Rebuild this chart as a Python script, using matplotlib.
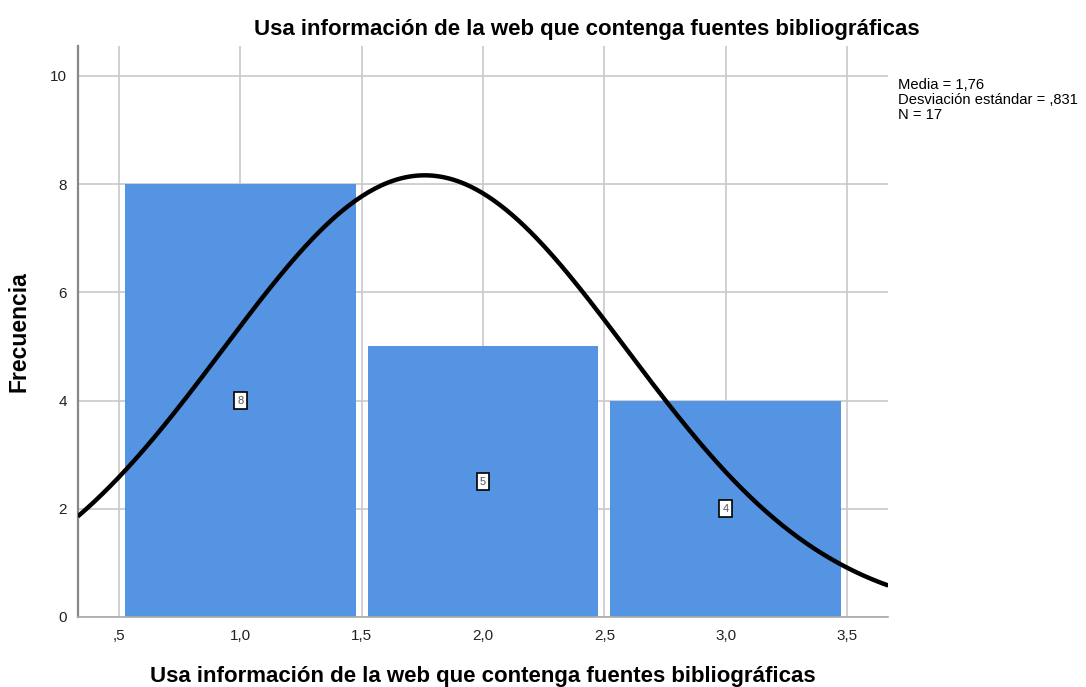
import numpy as np
import matplotlib
matplotlib.use("Agg")
import matplotlib.pyplot as plt

plt.rcParams['font.family'] = ['Liberation Sans', 'DejaVu Sans']

categories = [1, 2, 3]
frequencies = [8, 5, 4]
x_ticks = [0.5, 1.0, 1.5, 2.0, 2.5, 3.0, 3.5]
x_tick_labels = [",5", "1,0", "1,5", "2,0", "2,5", "3,0", "3,5"]
y_ticks = [0, 2, 4, 6, 8, 10]
mean, std_dev, n_obs = 1.76, 0.831, 17

title = "Usa información de la web que contenga fuentes bibliográficas"

fig = plt.figure(figsize=(10.86, 6.87), dpi=100)
ax = fig.add_axes([0.0718, 0.1019, 0.7459, 0.8311])

bar_color = "#5494e3"
ax.bar(categories, frequencies, width=0.95, color=bar_color,
       edgecolor="none", linewidth=0, zorder=2)

# Normal curve scaled to counts (bin width 1)
xs = np.linspace(0.33, 3.67, 400)
ys = n_obs * 1.0 / (std_dev * np.sqrt(2 * np.pi)) * np.exp(-0.5 * ((xs - mean) / std_dev) ** 2)
ax.plot(xs, ys, color="black", linewidth=3.2, zorder=4, solid_capstyle="butt")

# Count labels in the middle of each bar
for c, f in zip(categories, frequencies):
    ax.text(c, f / 2, str(f), ha="center", va="center", fontsize=8, color="#555555",
            zorder=5, bbox=dict(boxstyle="square,pad=0.3", fc="white", ec="black", lw=1.2))

ax.set_xlim(0.331, 3.669)
ax.set_ylim(0, 10.55)
ax.set_xticks(x_ticks)
ax.set_xticklabels(x_tick_labels)
ax.set_yticks(y_ticks)
ax.tick_params(axis="both", length=0, labelsize=11, colors="#222222")
ax.tick_params(axis="x", pad=9)
ax.tick_params(axis="y", pad=8)

ax.grid(True, color="#c8c8c8", linewidth=1.2, zorder=0)
ax.set_axisbelow(True)
for s in ("top", "right"):
    ax.spines[s].set_visible(False)
ax.spines["left"].set_color("#888888")
ax.spines["left"].set_linewidth(1.6)
ax.spines["bottom"].set_color("#aaaaaa")
ax.spines["bottom"].set_linewidth(1.2)

fig.text(587 / 1086, 1 - 30 / 687, title, fontsize=16, fontweight="bold",
         ha="center", va="center")
ax.set_xlabel(title, fontsize=16, fontweight="bold", labelpad=16)
ax.set_ylabel("Frecuencia", fontsize=16.5, fontweight="bold", labelpad=14)

fig.text(0.827, 0.8865, f"Media = 1,76\nDesviación estándar = ,831\nN = {n_obs}",
         fontsize=10.6, va="top", ha="left", linespacing=1.08)

fig.savefig("out.png", dpi=100, facecolor="white")
